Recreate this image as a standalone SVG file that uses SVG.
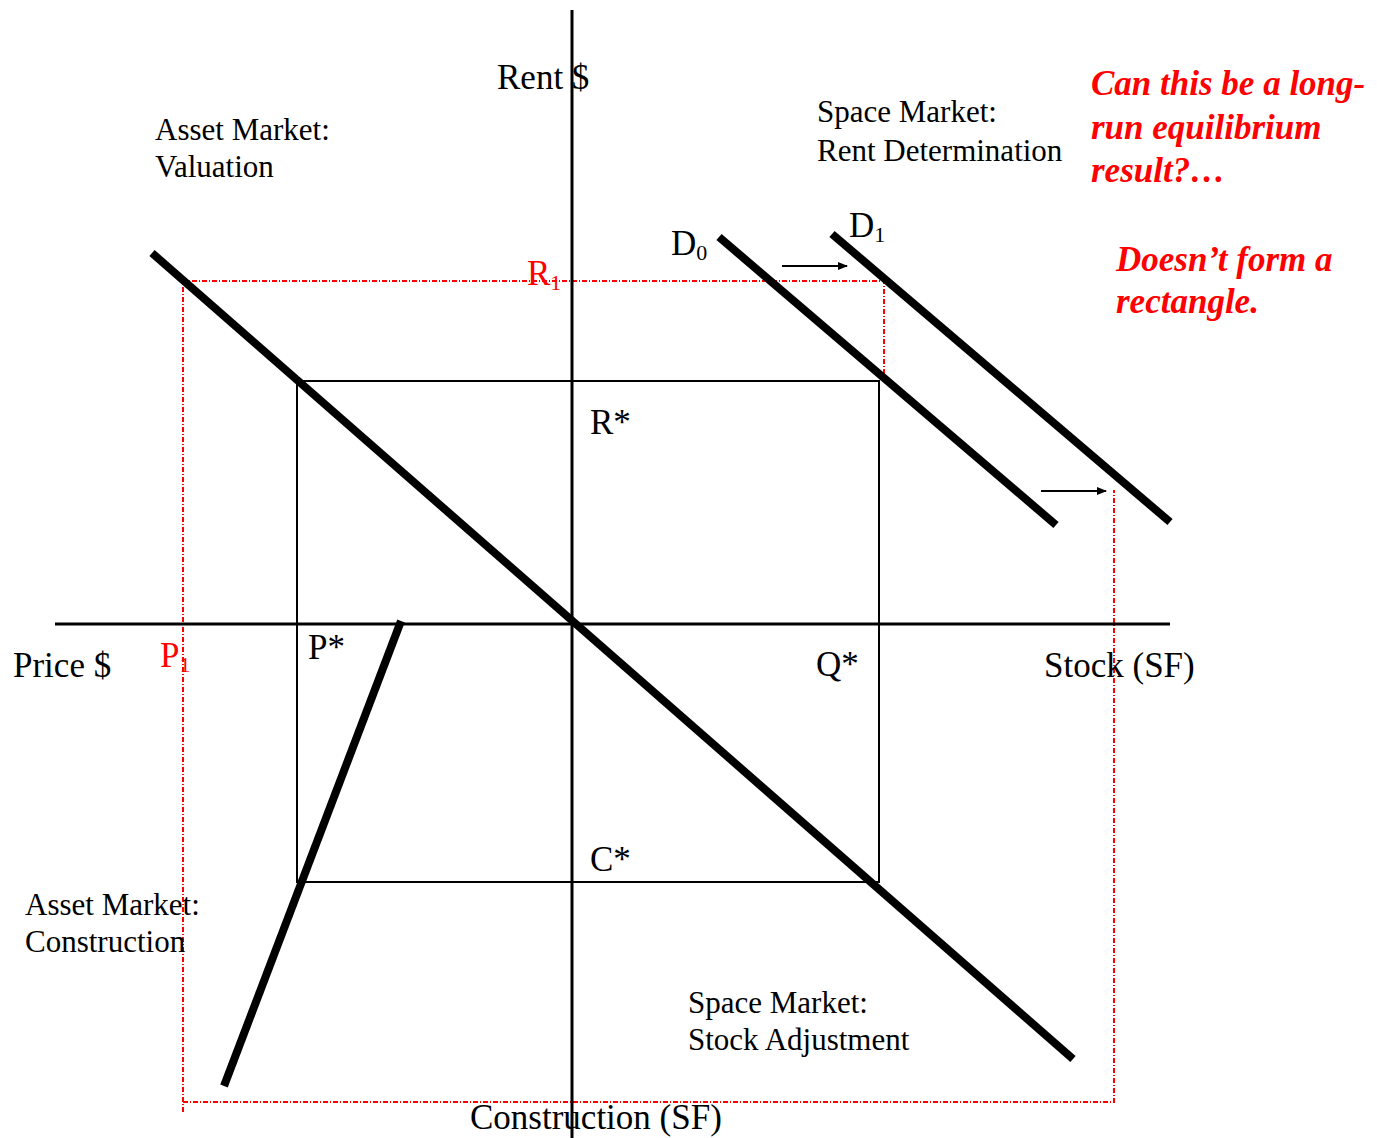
<svg xmlns="http://www.w3.org/2000/svg" width="1377" height="1138" viewBox="0 0 1377 1138">
<style>
.t{font-family:"Liberation Serif","Times New Roman",serif;fill:#000}
.ax{font-size:35px}
.lb{font-size:31px}
.r{fill:#ff0000}
.ri{font-family:"Liberation Serif","Times New Roman",serif;fill:#ff0000;font-style:italic;font-weight:bold;font-size:35px}
.thick{stroke:#000;stroke-width:8;fill:none}
.axis{stroke:#000;stroke-width:3;fill:none}
.thin{stroke:#000;stroke-width:2;fill:none}
.red{stroke:#ff0000;stroke-width:2;fill:none;stroke-dasharray:5 2 1 2}
</style>
<defs>
<marker id="ah" markerWidth="10" markerHeight="8" refX="9" refY="4" orient="auto" markerUnits="userSpaceOnUse">
<path d="M0,0 L10,4 L0,8 Z" fill="#000"/>
</marker>
</defs>
<rect width="1377" height="1138" fill="#fff"/>
<g id="connectors">
<polyline class="red" points="183,1112 183,281 884,281 884,380"/>
<polyline class="red" points="183,1102 1114,1102 1114,490"/>
<rect class="thin" x="297" y="381" width="582" height="501"/>
<line class="axis" x1="572" y1="10" x2="572" y2="1138"/>
<line class="axis" x1="55" y1="624" x2="1170" y2="624"/>
<line class="thick" x1="152" y1="253" x2="1073" y2="1059"/>
<line class="thick" x1="401" y1="621" x2="224" y2="1086"/>
<line class="thick" x1="719" y1="237" x2="1056" y2="525"/>
<line class="thick" x1="832" y1="234" x2="1170" y2="522"/>
<line stroke="#000" stroke-width="2" x1="782" y1="266" x2="847" y2="266" marker-end="url(#ah)"/>
<line stroke="#000" stroke-width="2" x1="1041" y1="491" x2="1106" y2="491" marker-end="url(#ah)"/>
</g>
<g id="axis-labels">
<text class="t ax" x="497" y="89">Rent $</text>
<text class="t ax" x="13" y="677">Price $</text>
<text class="t ax" x="1044" y="677">Stock (SF)</text>
<text class="t ax" x="470" y="1129">Construction (SF)</text>
</g>
<g id="quadrant-labels">
<text class="t lb" x="155" y="140">Asset Market:</text>
<text class="t lb" x="155" y="177">Valuation</text>
<text class="t lb" x="817" y="122">Space Market:</text>
<text class="t lb" x="817" y="161">Rent Determination</text>
<text class="t lb" x="25" y="915">Asset Market:</text>
<text class="t lb" x="25" y="952">Construction</text>
<text class="t lb" x="688" y="1013">Space Market:</text>
<text class="t lb" x="688" y="1050">Stock Adjustment</text>
</g>
<g id="points">
<text class="t ax" x="590" y="434">R*</text>
<text class="t ax" x="308" y="659">P*</text>
<text class="t ax" x="816" y="676">Q*</text>
<text class="t ax" x="590" y="871">C*</text>
<text class="t ax" x="671" y="255">D<tspan font-size="22" dy="5">0</tspan></text>
<text class="t ax" x="849" y="237">D<tspan font-size="22" dy="5">1</tspan></text>
<text class="t ax r" x="527" y="285">R<tspan font-size="22" dy="5">1</tspan></text>
<text class="t ax r" x="160" y="667">P<tspan font-size="22" dy="5">1</tspan></text>
</g>
<g id="notes">
<text class="ri" x="1091" y="95">Can this be a long-</text>
<text class="ri" x="1091" y="139">run equilibrium</text>
<text class="ri" x="1091" y="182">result?…</text>
<text class="ri" x="1116" y="271">Doesn’t form a</text>
<text class="ri" x="1116" y="313">rectangle.</text>
</g>
</svg>
